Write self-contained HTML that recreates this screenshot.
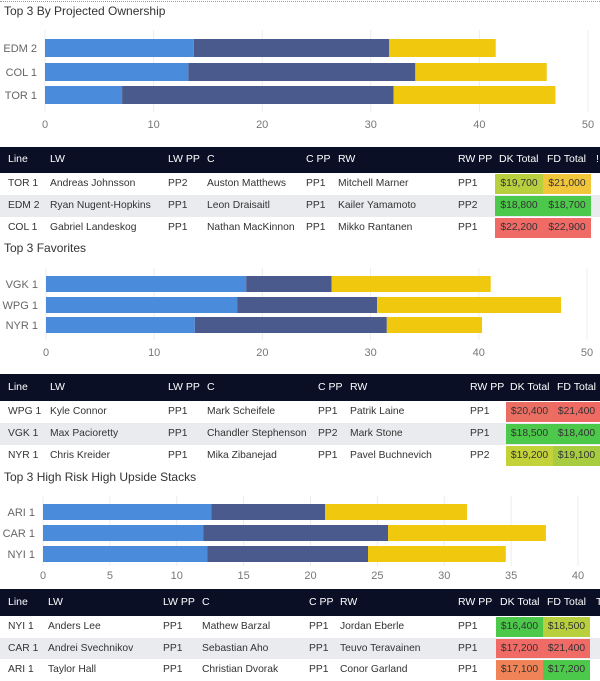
<!DOCTYPE html>
<html><head><meta charset="utf-8">
<style>
body{margin:0;width:600px;height:681px;background:#fff;overflow:hidden;font-family:"Liberation Sans",sans-serif;position:relative}
.t{position:absolute;font-size:12px;color:#333;white-space:nowrap}
.hdr{position:absolute;left:0;width:600px;background:#0b0f26}
.row{position:absolute;left:0;width:600px}
.c{position:absolute;font-size:10.3px;color:#333;white-space:nowrap}
.h{position:absolute;font-size:10.5px;color:#fff;white-space:nowrap}
.cell{position:absolute;font-size:10.3px;color:#333;text-align:center}
svg{position:absolute;left:0;top:0}
</style></head><body>
<div style="position:absolute;left:0;top:1px;width:600px;border-top:1px dotted #999"></div>
<div class="t" style="left:4px;top:4px">Top 3 By Projected Ownership</div>
<div class="t" style="left:4px;top:241px">Top 3 Favorites</div>
<div class="t" style="left:4px;top:470px">Top 3 High Risk High Upside Stacks</div>
<svg id="svg" width="600" height="681"></svg>
<div id="tables"></div>
<script>
// Chart 1
const cats1 = ["EDM 2","COL 1","TOR 1"];
const lw1 = [13.7, 13.2, 7.1];
const c1 = [18.0, 20.9, 25.0];
const rw1 = [9.8, 12.1, 14.9];
const ticks1 = [0,10,20,30,40,50];
// Chart 2
const cats2 = ["VGK 1","WPG 1","NYR 1"];
const lw2 = [18.5, 17.7, 13.75];
const c2 = [7.9, 12.9, 17.75];
const rw2 = [14.7, 17.0, 8.8];
const ticks2 = [0,10,20,30,40,50];
// Chart 3
const cats3 = ["ARI 1","CAR 1","NYI 1"];
const lw3 = [12.6, 12.0, 12.3];
const c3 = [8.5, 13.8, 12.0];
const rw3 = [10.6, 11.8, 10.3];
const ticks3 = [0,5,10,15,20,25,30,35,40];

const NS="http://www.w3.org/2000/svg";
const svg=document.getElementById('svg');
const colors=["#4a8bdc","#4b5a8c","#f0c80e"];
function mk(t,a){const e=document.createElementNS(NS,t);for(const k in a)e.setAttribute(k,a[k]);svg.appendChild(e);return e;}
function chart(cfg){
  const sx=v=>cfg.x0+(v-cfg.dmin)*(cfg.x1-cfg.x0)/(cfg.dmax-cfg.dmin);
  cfg.ticks.forEach(t=>{
    const g=mk('line',{x1:sx(t),x2:sx(t),y1:cfg.gt,y2:cfg.gb,stroke:'#ececec','stroke-width':1});
    
    
    const tx=mk('text',{x:sx(t),y:cfg.ty,'text-anchor':'middle','font-size':11,fill:'#777','font-family':'Liberation Sans, sans-serif'});
    tx.textContent=t;
    
    
  });
  cfg.cats.forEach((c,i)=>{
    const y=cfg.bt[i];
    const lb=mk('text',{x:cfg.x0-8,y:y+cfg.bh/2+4,'text-anchor':'end','font-size':11,fill:'#666','font-family':'Liberation Sans, sans-serif'});
    lb.textContent=c;
    
    
    let acc=0;
    cfg.series.forEach((s,j)=>{
      const r=mk('rect',{x:sx(acc),y:y,width:sx(acc+s[i])-sx(acc),height:cfg.bh,fill:colors[j]});
      
      
      acc+=s[i];
    });
  });
}
chart({cats:cats1,series:[lw1,c1,rw1],ticks:ticks1,dmin:0,dmax:50,x0:45,x1:588,bt:[39,63,86],bh:18,gt:30,gb:112,ty:128});
chart({cats:cats2,series:[lw2,c2,rw2],ticks:ticks2,dmin:0,dmax:50,x0:46,x1:587,bt:[276,297,317],bh:16,gt:268,gb:340,ty:356});
chart({cats:cats3,series:[lw3,c3,rw3],ticks:ticks3,dmin:0,dmax:40,x0:43,x1:578,bt:[504,525,546],bh:16,gt:496,gb:566,ty:579});

// Tables
const heads=["Line","LW","LW PP","C","C PP","RW","RW PP","DK Total","FD Total"];
const tables=[
 {top:147,hh:26,rh:22,xs:[8,50,168,207,306,338,458,495,543],cw:48,extra:"!",
  rows:[["TOR 1","Andreas Johnsson","PP2","Auston Matthews","PP1","Mitchell Marner","PP1","$19,700","$21,000"],
        ["EDM 2","Ryan Nugent-Hopkins","PP1","Leon Draisaitl","PP1","Kailer Yamamoto","PP2","$18,800","$18,700"],
        ["COL 1","Gabriel Landeskog","PP1","Nathan MacKinnon","PP1","Mikko Rantanen","PP1","$22,200","$22,900"]],
  cols:[["#b8d03e","#f2c63a"],["#4cc84a","#4cc84a"],["#f06a66","#f06a66"]]},
 {top:374,hh:27,rh:22,xs:[8,50,168,207,318,350,470,506,553],cw:47,extra:"",
  rows:[["WPG 1","Kyle Connor","PP1","Mark Scheifele","PP1","Patrik Laine","PP1","$20,400","$21,400"],
        ["VGK 1","Max Pacioretty","PP1","Chandler Stephenson","PP2","Mark Stone","PP1","$18,500","$18,400"],
        ["NYR 1","Chris Kreider","PP1","Mika Zibanejad","PP1","Pavel Buchnevich","PP2","$19,200","$19,100"]],
  cols:[["#ea6e62","#ee6a62"],["#4cc84a","#4cc84a"],["#c4d23a","#a8cc40"]]},
 {top:589,hh:27,rh:21.7,xs:[8,48,163,202,309,340,458,496,543],cw:47,extra:"T",
  rows:[["NYI 1","Anders Lee","PP1","Mathew Barzal","PP1","Jordan Eberle","PP1","$16,400","$18,500"],
        ["CAR 1","Andrei Svechnikov","PP1","Sebastian Aho","PP1","Teuvo Teravainen","PP1","$17,200","$21,400"],
        ["ARI 1","Taylor Hall","PP1","Christian Dvorak","PP1","Conor Garland","PP1","$17,100","$17,200"]],
  cols:[["#4cc84a","#b8d03e"],["#f06a66","#f06a66"],["#f08458","#4cc84a"]]}
];
const host=document.getElementById('tables');
tables.forEach(t=>{
  const h=document.createElement('div');h.className='hdr';
  
  
  h.style.top=t.top+'px';h.style.height=t.hh+'px';
  heads.forEach((x,i)=>{const s=document.createElement('div');s.className='h';s.textContent=x;
    
    
    s.style.left=(i>=7?t.xs[i]+4:t.xs[i])+'px';s.style.top=(t.hh/2-7)+'px';h.appendChild(s);});
  if(t.extra){const s=document.createElement('div');s.className='h';s.textContent=t.extra;s.style.left='596px';s.style.top=(t.hh/2-7)+'px';h.appendChild(s);}
  host.appendChild(h);
  t.rows.forEach((r,ri)=>{
    const rw=document.createElement('div');rw.className='row';
    
    
    const top=t.top+t.hh+ri*t.rh;
    rw.style.top=top+'px';rw.style.height=t.rh+'px';rw.style.background=ri==1?'#eaebee':'#fff';
    r.forEach((v,ci)=>{
      const s=document.createElement('div');
      if(ci>=7){s.className='cell';s.style.left=t.xs[ci]+'px';s.style.width=t.cw+'px';s.style.top='1px';s.style.height=(t.rh-2)+'px';s.style.lineHeight=(t.rh-2)+'px';s.style.background=t.cols[ri][ci-7];}
      else{s.className='c';s.style.left=t.xs[ci]+'px';s.style.top=(t.rh/2-6)+'px';}
      s.textContent=v;
      
      
      rw.appendChild(s);
    });
    host.appendChild(rw);
  });
});
</script>
</body></html>
